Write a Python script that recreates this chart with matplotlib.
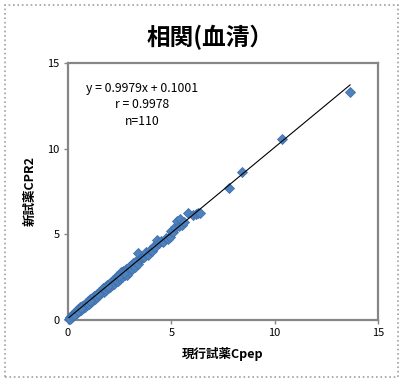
import numpy as np
import matplotlib
matplotlib.use("Agg")
import matplotlib.pyplot as plt
import matplotlib.patches as patches

plt.rcParams['font.family'] = ['Noto Sans CJK JP', 'DejaVu Sans']

# values
x_cpep = [0.05, 0.10, 0.15, 0.20, 0.25, 0.30, 0.35, 0.40, 0.45, 0.50,
          0.55, 0.60, 0.62, 0.68, 0.72, 0.78, 0.82, 0.88, 0.92, 0.98,
          1.02, 1.08, 1.12, 1.18, 1.22, 1.28, 1.32, 1.38, 1.42, 1.48,
          1.52, 1.58, 1.62, 1.68, 1.72, 1.78, 1.82, 1.88, 1.92, 1.98,
          2.02, 2.08, 2.12, 2.18, 2.22, 2.28, 2.32, 2.38, 2.42, 2.48,
          2.52, 2.58, 2.62, 2.68, 2.75, 2.80, 2.85, 2.90, 2.95, 3.02,
          3.08, 3.15, 3.22, 3.30, 3.38, 3.40, 3.48, 3.56, 3.62, 3.70,
          3.78, 3.85, 3.97, 4.05, 4.15, 4.22, 4.29, 4.40, 4.50, 4.62,
          4.75, 4.85, 4.93, 5.00, 5.10, 5.18, 5.26, 5.35, 5.42, 5.50,
          5.60, 5.82, 6.05, 6.18, 6.30, 6.40, 7.80, 8.40, 10.34, 13.65,
          0.08, 0.18, 0.28, 0.48, 0.65, 1.05, 1.45, 1.95, 2.45, 2.70]
y_cpr2 = [0.08, 0.18, 0.12, 0.30, 0.22, 0.41, 0.33, 0.52, 0.40, 0.63,
          0.55, 0.74, 0.58, 0.80, 0.70, 0.88, 0.75, 0.97, 0.86, 1.10,
          0.95, 1.22, 1.05, 1.30, 1.15, 1.42, 1.25, 1.50, 1.36, 1.62,
          1.45, 1.72, 1.55, 1.85, 1.66, 1.90, 1.75, 2.02, 1.85, 2.10,
          1.95, 2.22, 2.05, 2.32, 2.12, 2.42, 2.25, 2.55, 2.30, 2.62,
          2.42, 2.78, 2.52, 2.85, 2.60, 2.95, 2.62, 3.05, 2.80, 3.15,
          2.95, 3.30, 3.10, 3.42, 3.25, 3.93, 3.55, 3.60, 3.70, 3.65,
          3.95, 3.80, 4.09, 4.00, 4.30, 4.25, 4.68, 4.50, 4.62, 4.55,
          4.80, 4.70, 4.87, 5.20, 5.16, 5.40, 5.75, 5.50, 5.90, 5.55,
          5.70, 6.27, 6.10, 6.20, 6.27, 6.24, 7.70, 8.66, 10.58, 13.33,
          0.05, 0.25, 0.30, 0.55, 0.70, 1.12, 1.50, 2.00, 2.55, 2.72]

slope = 0.9979
intercept = 0.1001
r_value = 0.9978
n_samples = 110

ticks = [0, 5, 10, 15]

fig = plt.figure(figsize=(4.06, 3.85), dpi=100)
ax = fig.add_axes([68/406, 1-320/385, 310/406, 257/385])

# dotted frame round the whole chart (Excel chart area)
frame = patches.Rectangle((5/406, 8/385), 393/406, 372/385, transform=fig.transFigure,
                          fill=False, edgecolor='#A0A0A0', linestyle=':', linewidth=1.2)
fig.patches.append(frame)

ax.plot(x_cpep, y_cpr2, linestyle='none', marker='D', markersize=5.2,
        markerfacecolor='#4F81BD', markeredgecolor='#3F71AD', markeredgewidth=0.6,
        clip_on=False, zorder=3)

# trend line over the data range
x_line = np.array([min(x_cpep), max(x_cpep)])
ax.plot(x_line, slope*x_line + intercept, color='black', linewidth=0.8, zorder=4)

ax.set_xlim(0, 15)
ax.set_ylim(0, 15)
ax.set_xticks(ticks)
ax.set_yticks(ticks)
for side in ax.spines.values():
    side.set_color('#868686')
    side.set_linewidth(1.6)
ax.tick_params(direction='out', length=3, width=1, color='#868686', labelsize=8, pad=3)

ax.set_xlabel('現行試薬Cpep', fontsize=9, fontweight='bold', labelpad=6)
ax.set_ylabel('新試薬CPR2', fontsize=9, fontweight='bold', labelpad=8)

fig.text(210/406, 1-37/385, '相関(血清）', fontsize=17, fontweight='bold',
         ha='center', va='center')

ax.text(0.058, 0.899, 'y = 0.9979x + 0.1001', transform=ax.transAxes, fontsize=8.8, va='center')
ax.text(0.238, 0.837, 'r = %.4f' % r_value, transform=ax.transAxes, fontsize=8.8, va='center', ha='center')
ax.text(0.238, 0.774, 'n=%d' % n_samples, transform=ax.transAxes, fontsize=8.8, va='center', ha='center')

fig.savefig('out.png', dpi=100)
